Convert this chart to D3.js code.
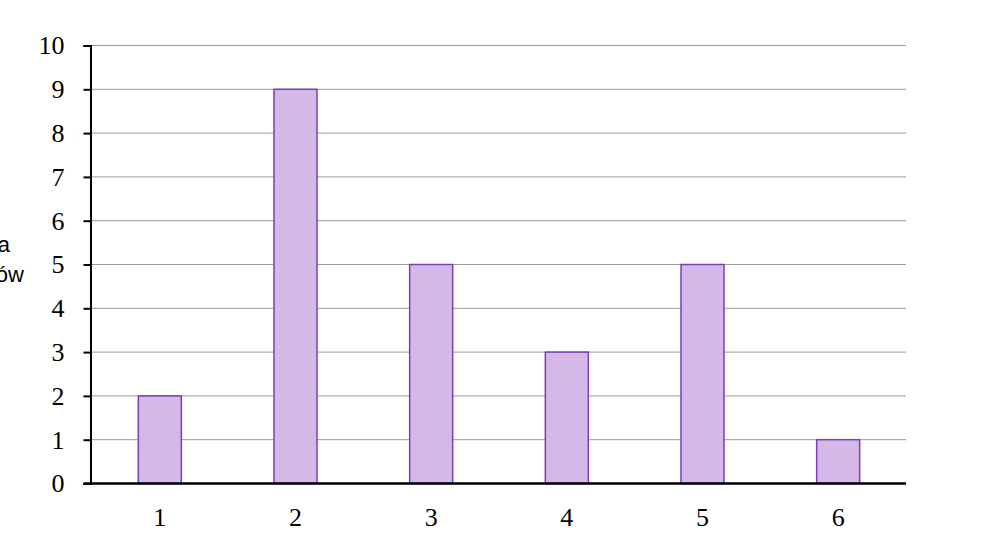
<!DOCTYPE html>
<html>
<head>
<meta charset="utf-8">
<script src="https://cdn.jsdelivr.net/npm/d3@7"></script>
<style>
  body { margin: 0; background: #fff; }
  svg { display: block; }
</style>
</head>
<body>
<div class="js-chart"></div>
<script>
'use strict';

// values
const categories = ["1", "2", "3", "4", "5", "6"];
const counts = [2, 9, 5, 3, 5, 1];
const yTickValues = [0, 1, 2, 3, 4, 5, 6, 7, 8, 9, 10];
const axisTitleLines = ["Liczba", "uczniów"];

function drawChart() {

    const svgWidth = 989;
    const svgHeight = 536;

    const plotLeft = 90.5;
    const plotRight = 906;
    const plotTop = 45.5;
    const plotBottom = 483.5;

    const barFill = "#d4b8e8";
    const barStroke = "#7b3fb3";
    const gridColor = "#9a9a9a";
    const tickFont = "'Liberation Serif', serif";

    let svg = d3.select(".js-chart")
                .append("svg")
                .attr("width", svgWidth)
                .attr("height", svgHeight);

    let xScale = d3.scaleBand()
                    .domain(categories)
                    .range([plotLeft + 1.5, plotRight])
                    .paddingInner(0.683)
                    .paddingOuter(0.683 / 2);

    let yScale = d3.scaleLinear()
                    .domain([0, 10])
                    .range([plotBottom, plotTop]);

    // horizontal gridlines
    svg.append("g")
        .selectAll("line")
        .data(yTickValues.filter(d => d > 0))
        .enter()
        .append("line")
        .attr("x1", plotLeft)
        .attr("x2", plotRight)
        .attr("y1", d => yScale(d))
        .attr("y2", d => yScale(d))
        .attr("stroke", gridColor)
        .attr("stroke-width", 1);

    // bars
    svg.append("g")
        .selectAll("rect")
        .data(counts)
        .enter()
        .append("rect")
        .attr("x", (d, i) => xScale(categories[i]))
        .attr("y", d => yScale(d))
        .attr("width", xScale.bandwidth())
        .attr("height", d => yScale(0) - yScale(d))
        .attr("fill", barFill)
        .attr("stroke", barStroke)
        .attr("stroke-width", 1.5);

    // y axis
    let yAxis = d3.axisLeft(yScale)
                    .tickValues(yTickValues)
                    .tickFormat(d3.format("d"))
                    .tickSizeInner(7)
                    .tickSizeOuter(7)
                    .tickPadding(19);

    let yAxisG = svg.append("g")
        .attr("transform", `translate(${plotLeft},0)`)
        .call(yAxis);

    yAxisG.select(".domain")
        .attr("stroke", "#000")
        .attr("stroke-width", 2);
    yAxisG.selectAll(".tick line")
        .attr("stroke", "#000")
        .attr("stroke-width", 2);
    yAxisG.selectAll(".tick text")
        .attr("font-family", tickFont)
        .attr("font-size", "26px")
        .attr("fill", "#000");

    // x axis, no ticks
    let xAxis = d3.axisBottom(xScale)
                    .tickSize(0)
                    .tickPadding(24);

    let xAxisG = svg.append("g")
        .attr("transform", `translate(0,${plotBottom})`)
        .call(xAxis);

    xAxisG.select(".domain")
        .attr("d", `M${plotLeft - 7},0H${plotRight}`)
        .attr("stroke", "#000")
        .attr("stroke-width", 2.5);
    xAxisG.selectAll(".tick text")
        .attr("font-family", tickFont)
        .attr("font-size", "26px")
        .attr("fill", "#000");

    // axis title, clipped at the left edge like the reference
    svg.append("g")
        .selectAll("text")
        .data(axisTitleLines)
        .enter()
        .append("text")
        .text(d => d)
        .attr("x", 24)
        .attr("y", (d, i) => 252 + i * 30)
        .attr("text-anchor", "end")
        .attr("font-family", "'Liberation Sans', Arial, sans-serif")
        .attr("font-size", "22px")
        .attr("fill", "#000")
        .attr("dx", (d, i) => i === 0 ? -14 : 0);
}

drawChart();
</script>
</body>
</html>
